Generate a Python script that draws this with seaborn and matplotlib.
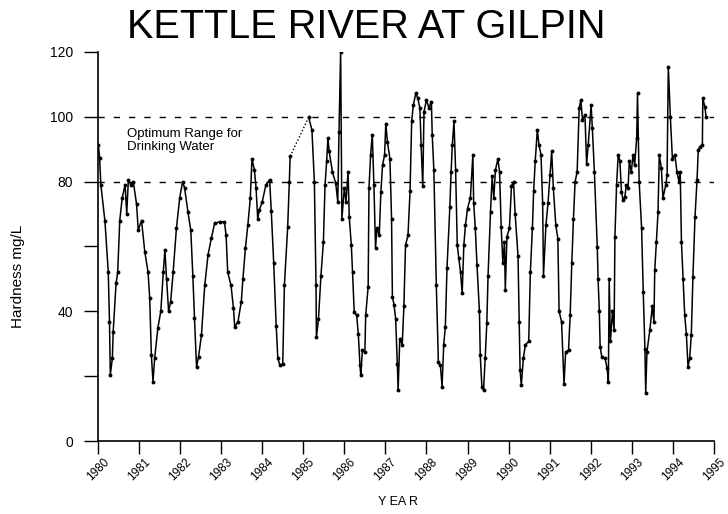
import matplotlib
matplotlib.use("Agg")
import matplotlib.pyplot as plt
import pandas as pd
import seaborn as sns

# sample dates (decimal years) and hardness readings
year = [
    1980.01, 1980.04, 1980.07, 1980.17, 1980.25, 1980.28, 1980.30, 1980.35, 1980.37, 1980.44,
    1980.48, 1980.53, 1980.59, 1980.66, 1980.70, 1980.74, 1980.80, 1980.86, 1980.94, 1980.98,
    1981.06, 1981.14, 1981.22, 1981.26, 1981.30, 1981.34, 1981.38, 1981.46, 1981.53, 1981.59,
    1981.63, 1981.67, 1981.72, 1981.77, 1981.83, 1981.91, 1981.99, 1982.06, 1982.11, 1982.19,
    1982.26, 1982.31, 1982.35, 1982.40, 1982.45, 1982.52, 1982.60, 1982.68, 1982.76, 1982.84,
    1982.96, 1983.08, 1983.12, 1983.16, 1983.24, 1983.30, 1983.33, 1983.41, 1983.49, 1983.53,
    1983.59, 1983.65, 1983.71, 1983.75, 1983.81, 1983.85, 1983.89, 1983.93, 1984.00, 1984.09,
    1984.18, 1984.22, 1984.28, 1984.34, 1984.38, 1984.43, 1984.50, 1984.54, 1984.62, 1984.66,
    1984.68,
    1985.13, 1985.21, 1985.27, 1985.31, 1985.32, 1985.37, 1985.43, 1985.49, 1985.53, 1985.57,
    1985.60, 1985.63, 1985.71, 1985.79, 1985.84, 1985.87, 1985.91, 1985.94, 1986.00, 1986.04,
    1986.09, 1986.12, 1986.17, 1986.20, 1986.24, 1986.30, 1986.34, 1986.38, 1986.40, 1986.44,
    1986.50, 1986.52, 1986.58, 1986.60, 1986.64, 1986.68, 1986.72, 1986.76, 1986.79, 1986.85,
    1986.89, 1986.93, 1986.98, 1987.01, 1987.05, 1987.11, 1987.15, 1987.17, 1987.21, 1987.25,
    1987.29, 1987.31, 1987.35, 1987.41, 1987.45, 1987.49, 1987.55, 1987.60, 1987.64, 1987.68,
    1987.74, 1987.79, 1987.84, 1987.87, 1987.91, 1987.94, 1988.00, 1988.06, 1988.12, 1988.14,
    1988.18, 1988.24, 1988.29, 1988.34, 1988.38, 1988.42, 1988.46, 1988.50, 1988.57, 1988.60,
    1988.63, 1988.67, 1988.71, 1988.75, 1988.79, 1988.83, 1988.87, 1988.91, 1988.95, 1989.00,
    1989.07, 1989.13, 1989.15, 1989.19, 1989.23, 1989.29, 1989.31, 1989.35, 1989.39, 1989.43,
    1989.47, 1989.50, 1989.56, 1989.60, 1989.64, 1989.68, 1989.74, 1989.78, 1989.82, 1989.86,
    1989.90, 1989.92, 1989.96, 1990.02, 1990.07, 1990.12, 1990.16, 1990.23, 1990.26, 1990.28,
    1990.31, 1990.36, 1990.41, 1990.49, 1990.53, 1990.58, 1990.61, 1990.65, 1990.70, 1990.74,
    1990.79, 1990.83, 1990.85, 1990.91, 1990.96, 1991.01, 1991.05, 1991.09, 1991.15, 1991.20,
    1991.23, 1991.29, 1991.35, 1991.39, 1991.46, 1991.50, 1991.54, 1991.58, 1991.62, 1991.67,
    1991.72, 1991.76, 1991.80, 1991.86, 1991.90, 1991.94, 1992.01, 1992.04, 1992.09, 1992.16,
    1992.18, 1992.21, 1992.23, 1992.27, 1992.35, 1992.40, 1992.43, 1992.45, 1992.48, 1992.53,
    1992.57, 1992.59, 1992.63, 1992.67, 1992.71, 1992.75, 1992.79, 1992.83, 1992.87, 1992.91,
    1992.94, 1992.99, 1993.03, 1993.07, 1993.12, 1993.14, 1993.18, 1993.24, 1993.28, 1993.32,
    1993.34, 1993.37, 1993.44, 1993.50, 1993.54, 1993.56, 1993.60, 1993.64, 1993.67, 1993.72,
    1993.76, 1993.83, 1993.86, 1993.89, 1993.94, 1993.99, 1994.05, 1994.10, 1994.15, 1994.18,
    1994.21, 1994.25, 1994.29, 1994.33, 1994.37, 1994.41, 1994.45, 1994.49, 1994.54, 1994.59,
    1994.62, 1994.67, 1994.72, 1994.73, 1994.78, 1994.81,
]
hardness = [
    91.3, 87.2, 79.0, 67.7, 52.2, 36.8, 20.4, 25.5, 33.7, 48.6,
    52.0, 68.0, 75.0, 79.0, 70.0, 80.6, 79.0, 80.0, 73.0, 65.0,
    68.0, 58.4, 52.0, 44.0, 26.5, 18.3, 25.5, 35.0, 40.0, 52.0,
    59.0, 50.0, 40.0, 43.0, 52.0, 65.6, 75.0, 80.0, 78.0, 70.7,
    65.0, 51.0, 38.0, 22.9, 26.0, 32.7, 48.0, 57.4, 62.5, 67.1,
    67.6, 67.6, 63.4, 52.0, 48.0, 40.9, 35.2, 36.8, 43.0, 50.0,
    59.4, 66.6, 75.0, 87.0, 83.6, 78.0, 68.6, 71.2, 73.8, 79.0,
    80.6, 71.0, 54.8, 35.6, 25.5, 23.4, 23.8, 48.0, 66.0, 80.0,
    87.8,
    99.8, 96.0, 80.0, 48.0, 32.0, 37.6, 51.0, 61.4, 79.0, 86.3,
    93.5, 89.3, 83.0, 79.5, 73.8, 95.4, 120.0, 68.5, 78.0, 73.8,
    83.0, 69.0, 60.4, 52.0, 39.8, 38.8, 33.0, 23.4, 20.3, 28.0,
    27.5, 38.8, 47.6, 78.0, 88.3, 94.5, 79.0, 59.4, 65.6, 63.4,
    76.8, 85.0, 88.3, 97.9, 92.2, 87.0, 68.6, 44.5, 42.0, 37.6,
    23.8, 15.7, 31.6, 29.7, 41.5, 60.4, 63.4, 77.0, 98.6, 103.6,
    107.2, 105.7, 102.7, 91.3, 78.5, 101.5, 105.2, 102.7, 104.7, 94.5,
    83.6, 48.0, 24.3, 23.3, 16.7, 29.7, 35.2, 53.3, 72.3, 83.0,
    91.3, 98.6, 83.6, 60.4, 56.3, 52.0, 45.5, 60.4, 66.6, 71.7,
    75.0, 88.3, 73.3, 65.6, 54.4, 40.0, 26.5, 16.7, 15.7, 25.5,
    36.3, 51.0, 70.7, 81.6, 75.0, 83.6, 87.0, 83.0, 66.0, 55.0,
    61.4, 46.5, 63.0, 65.6, 78.5, 80.0, 70.0, 57.0, 36.8, 21.9,
    17.2, 25.5, 29.7, 30.7, 52.0, 65.6, 77.0, 86.5, 96.0, 91.3,
    88.3, 73.3, 51.0, 66.6, 73.3, 82.0, 89.3, 78.0, 66.6, 62.4,
    40.0, 36.8, 17.7, 27.5, 28.0, 38.8, 55.0, 68.6, 80.0, 83.0,
    102.7, 105.2, 99.0, 100.6, 85.5, 91.3, 103.6, 96.4, 83.0, 59.8,
    50.0, 40.0, 29.0, 26.0, 25.5, 22.4, 18.3, 50.0, 30.7, 40.0,
    34.2, 63.0, 79.0, 88.3, 86.5, 76.8, 74.3, 75.2, 79.0, 78.0,
    86.3, 83.0, 88.3, 85.0, 93.5, 107.2, 80.0, 65.6, 46.0, 28.5,
    14.7, 27.5, 34.2, 41.5, 36.8, 52.8, 61.4, 70.7, 88.3, 84.2,
    75.0, 79.0, 82.0, 115.5, 100.0, 87.0, 88.3, 83.0, 80.0, 83.0,
    61.4, 50.0, 38.8, 33.0, 22.9, 25.5, 32.7, 50.7, 69.0, 80.6,
    89.8, 90.8, 91.3, 105.7, 103.1, 100.0,
]

years_ticks = list(range(1980, 1996))
y_ticks = [0, 20, 40, 60, 80, 100, 120]
y_tick_labels = ["0", "", "40", "", "80", "100", "120"]
optimum_range = [80, 100]

df = pd.DataFrame({"year": year, "hardness": hardness})
# a long gap in sampling splits the record into two runs
df["seg"] = (df["year"].diff() > 0.3).cumsum()

sns.set_style("ticks")
plt.rcParams["font.family"] = ["Liberation Sans", "DejaVu Sans"]
plt.rcParams["text.color"] = "black"
plt.rcParams["axes.labelcolor"] = "black"

fig = plt.figure(figsize=(7.28, 5.14), dpi=100)
ax = fig.add_axes([0.1346, 0.142, 0.846, 0.757])

sns.lineplot(data=df, x="year", y="hardness", units="seg", estimator=None,
             sort=False, color="black", lw=1.1, marker="o", markersize=2.8,
             markeredgewidth=0, ax=ax)

# dotted link across the sampling gap
k = df.index[df["seg"].diff() == 1][0]
gap = df.iloc[k - 1:k + 1]
ax.plot(gap["year"], gap["hardness"], color="black", lw=1.0, ls=(0, (1, 1.5)))

for v in optimum_range:
    ax.axhline(v, color="black", lw=1.0, dashes=(4.5, 6.5))

ax.text(0.047, 0.773, "Optimum Range for\nDrinking Water", transform=ax.transAxes,
        fontsize=9.5, ha="left", va="center", linespacing=1.15)

ax.set_xlim(1980, 1995)
ax.set_ylim(0, 120)
ax.set_xticks(years_ticks)
ax.set_xticklabels([str(y) for y in years_ticks], rotation=45, ha="center", fontsize=8.5)
ax.set_yticks(y_ticks)
ax.set_yticklabels(y_tick_labels, fontsize=10)
ax.tick_params(axis="y", direction="out", length=10, width=1.0, pad=8, colors="black")
ax.tick_params(axis="x", direction="out", length=9, width=1.0, pad=2, colors="black")

for side in ["top", "right"]:
    ax.spines[side].set_visible(False)
for side in ["left", "bottom"]:
    ax.spines[side].set_color("black")
    ax.spines[side].set_linewidth(1.2)

ax.set_xlabel("Y EA R", fontsize=9)
ax.xaxis.set_label_coords(0.487, -0.157)
ax.xaxis.label.set_va("center")
ax.set_ylabel("Hardness mg/L", fontsize=11)
ax.yaxis.set_label_coords(-0.13, 0.424)
ax.yaxis.label.set_va("center")

fig.text(0.503, 0.947, "KETTLE RIVER AT GILPIN", fontsize=28.5, ha="center", va="center")

fig.savefig("out.png", dpi=100)
